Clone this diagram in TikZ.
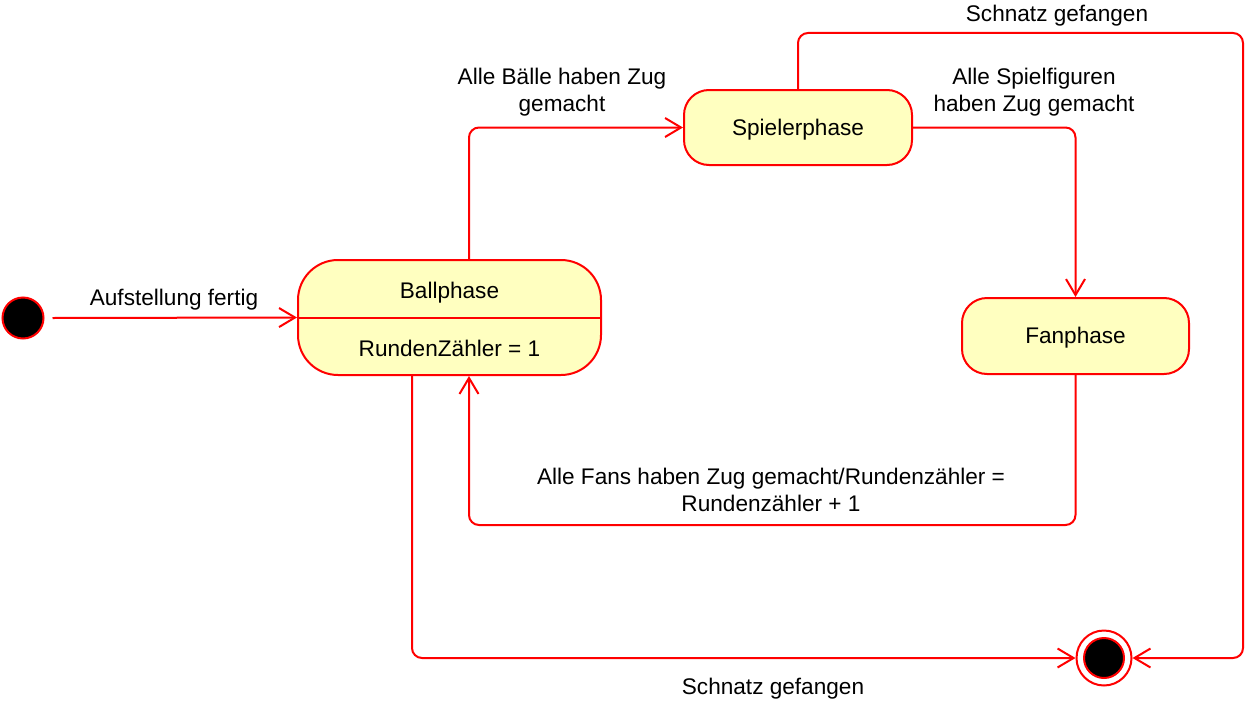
\documentclass[tikz,border=0pt]{standalone}
\usepackage{fontspec}
\setmainfont{Liberation Sans}
\usetikzlibrary{arrows.meta,calc}
\definecolor{statefill}{HTML}{FFFFC0}

\begin{document}
\begin{tikzpicture}[x=1pt,y=-1pt,
	font=\fontsize{22.6}{26.5}\selectfont,
	statebox/.style={draw=red,fill=statefill,line width=2pt,rounded corners=25pt,inner sep=0pt},
	trans/.style={draw=red,line width=2pt,rounded corners=10pt,-{Straight Barb[length=16pt,width=19pt]}},
	lbl/.style={align=center,inner sep=0pt}]
	\useasboundingbox (0,0) rectangle (1246,701);
	% states
	\node[circle,draw=red,fill=black,line width=2pt,minimum size=41pt,inner sep=0pt] (start) at (23,318) {};
	\node[statebox,rounded corners=40pt,minimum width=303pt,minimum height=115pt] (ball) at (449.5,317.5) {};
	\draw[red,line width=2pt] (ball.west) -- (ball.east);
	\node[lbl] (balltxt) at (449.5,293) {Ballphase};
	\node[lbl] (ballvar) at (449.5,348) {RundenZähler = 1};
	\node[statebox,minimum width=228pt,minimum height=75pt] (spieler) at (798,127.5) {};
	\node[lbl] (spielertxt) at (spieler) [yshift=-2pt] {Spielerphase};
	\node[statebox,minimum width=227pt,minimum height=76pt] (fan) at (1075.5,336) {};
	\node[lbl] (fantxt) at (fan) [yshift=-2pt] {Fanphase};
	\node[circle,draw=red,fill=white,line width=2pt,minimum size=55pt,inner sep=0pt] (final) at (1104,658) {};
	\node[circle,draw=red,fill=black,line width=2pt,minimum size=40pt,inner sep=0pt] (finaldot) at (final) {};
	\coordinate (rt) at (1243,33);
	% transitions
	\draw[trans] (start.east) ++(8,0) -- (ball.west);
	\draw[trans] ($(ball.north)+(19.5,0)$) |- (spieler.west);
	\draw[trans] (spieler.east) -| (fan.north);
	\draw[trans] (fan.south) -- ++(0,150) -| ($(ball.south)+(19.5,0)$);
	\draw[trans] ($(ball.south)+(-37.5,0)$) |- (final.west);
	\draw[trans] (spieler.north) |- (rt) |- (final.east);
	% labels
	\node[lbl] (l1) at (174,300) {Aufstellung fertig};
	\node[lbl] (l2) at (562,92) {Alle Bälle haben Zug\\gemacht};
	\node[lbl] (l3) at (1034,92) {Alle Spielfiguren\\haben Zug gemacht};
	\node[lbl] (l4) at (771,490) {Alle Fans haben Zug gemacht/Rundenzähler =\\Rundenzähler + 1};
	\node[lbl] (l5) at (773,689) {Schnatz gefangen};
	\node[lbl] (l6) at (1057,16) {Schnatz gefangen};
\end{tikzpicture}
\end{document}
